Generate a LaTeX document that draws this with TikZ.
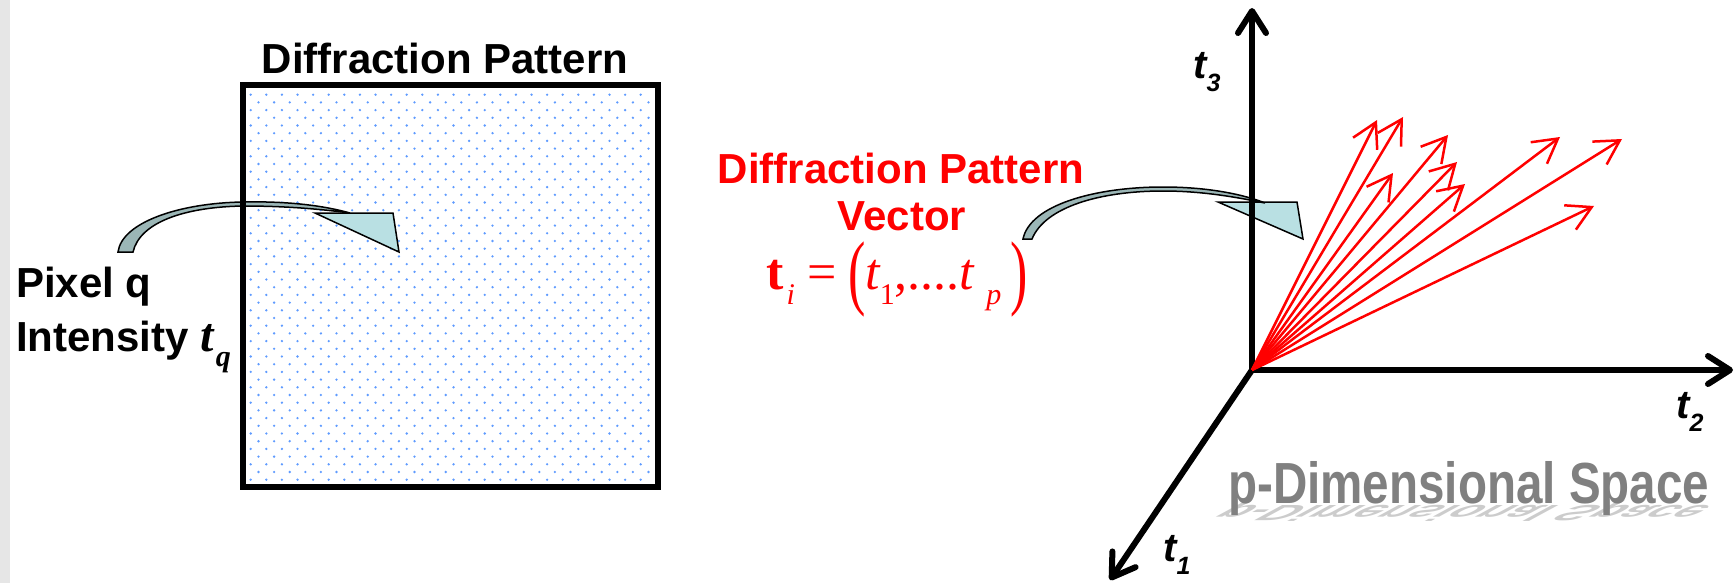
\documentclass[tikz,border=0pt]{standalone}
\usepackage{fontspec}
\setmainfont{Liberation Sans}
\newfontfamily\tms{Liberation Serif}
\usepackage{graphicx}
\usetikzlibrary{arrows.meta, positioning}
\definecolor{dotblue}{RGB}{95,155,255}
\definecolor{tailgray}{RGB}{155,182,182}
\definecolor{tipcyan}{RGB}{185,224,227}
\definecolor{sidegray}{RGB}{230,230,230}
\definecolor{spacegray}{RGB}{128,128,128}
\newcommand{\bigfont}{\fontsize{42}{47}\selectfont\bfseries}
\newcommand{\lowsub}[1]{\raisebox{-0.32em}{\fontsize{25}{25}\selectfont #1}}
\newcommand{\eqsub}[1]{\raisebox{-15pt}{\fontsize{30}{30}\selectfont #1}}
\newcommand{\tallparen}[1]{\raisebox{-10pt}{\scalebox{1}[1.6]{#1}}}
\newcommand{\spacetext}{\scalebox{0.82}[1]{\fontsize{58}{58}\selectfont\bfseries p-Dimensional Space}}

\tikzset{
  label text/.style={font=\bigfont, inner sep=0pt},
  axis name/.style={font=\fontsize{40}{40}\selectfont\bfseries\itshape, inner sep=0pt},
  axis/.style={line width=6pt, -{Straight Barb[length=22pt,width=28pt,round]}},
  vec/.style={red, line width=2.5pt, -{Straight Barb[length=24pt,width=27pt]}},
  callout tail/.style={fill=tailgray, draw=black, line width=1.5pt},
  callout tip/.style={fill=tipcyan, draw=black, line width=1.5pt, line join=miter},
}

\begin{document}
\begin{tikzpicture}[x=1pt, y=-1pt]
    \useasboundingbox (0,0) rectangle (1735,583);
    \fill[sidegray] (0,0) rectangle (10,583);

    % pattern square and its dots
    \foreach \r in {0,...,50}{
        \pgfmathsetmacro{\off}{7.8*mod(\r,2)}
        \foreach \c in {0,...,25}
            \fill[dotblue] (250.7+\off+15.6*\c, 94.7+7.7*\r) circle (1.3);
    }
    \node[label text, anchor=base] (title) at (445,74) {Diffraction Pattern};

    % callout to one pixel
    \draw[callout tip] (315,213) -- (393,213) -- (399,252) -- cycle;
    \draw[callout tail] (118,252) .. controls (122,222) and (180,203) .. (243,202)
        .. controls (290,201) and (325,206) .. (350,213)
        .. controls (320,209) and (285,206) .. (243,206)
        .. controls (185,207) and (140,222) .. (133,252) -- cycle;
    \draw[line width=6pt] (243,85) rectangle (658,487);

    \node[label text, anchor=base west] (pixel) at (16,297) {Pixel q};
    \node[label text, anchor=base west] (intensity) at (16,351)
        {Intensity {\tms\itshape\fontsize{48}{48}\selectfont t\hspace{2pt}\eqsub{q}}};

    % vector label
    \node[label text, red, anchor=base] (vtitle) at (901,183) {Diffraction Pattern};
    \node[label text, red, anchor=base] (vword) at (902,230) {Vector};
    \node[red, inner sep=0pt, anchor=base west, font=\tms\fontsize{52}{52}\selectfont]
        (tvec) at (766,289)
        {{\bfseries t}\hspace{3pt}\eqsub{\itshape i}\hspace{13pt}=\hspace{11pt}\tallparen{(}%
         {\itshape t}\eqsub{1},....{\itshape t}\hspace{12pt}\eqsub{\itshape p}\hspace{9pt}\tallparen{)}};

    % callout to the vector
    \draw[callout tip] (1218,202) -- (1297,202) -- (1303,239) -- cycle;
    \draw[callout tail] (1023,239) .. controls (1030,205) and (1095,187) .. (1163,187)
        .. controls (1210,187) and (1245,195) .. (1265,203)
        .. controls (1240,198) and (1205,191) .. (1163,191)
        .. controls (1100,191) and (1045,207) .. (1032,239) -- cycle;

    % axes
    \coordinate (o) at (1252,370);
    \coordinate (a3) at (1252,8);
    \coordinate (a2) at (1733,370);
    \coordinate (a1) at (1110,580);
    \draw[axis] (o) -- (a3);
    \draw[axis] (o) -- (a2);
    \draw[axis] (o) -- (a1);
    \node[axis name] (n3) at (1207,72) {t\lowsub{3}};
    \node[axis name] (n2) at (1690,412) {t\lowsub{2}};
    \node[axis name] (n1) at (1177,555) {t\lowsub{1}};

    % pattern vectors
    \foreach \x/\y [count=\i] in {1377/120, 1403/117, 1393/173, 1448/135,
        1457/162, 1465/184, 1560/137, 1622/139, 1594/206} {
        \coordinate (v\i) at (\x,\y);
        \draw[vec] (o) -- (v\i);
    }

    % space caption with its reflection
    \begin{scope}[shift={(1234,505)}, cm={1,0,-0.7,-0.38,(0,0)}]
        \node[transform shape, anchor=base west, inner sep=0pt, gray!40] (shadow) at (0,0) {\spacetext};
    \end{scope}
    \node[anchor=base west, inner sep=0pt, spacegray] (space) at (1228,503) {\spacetext};
\end{tikzpicture}
\end{document}
